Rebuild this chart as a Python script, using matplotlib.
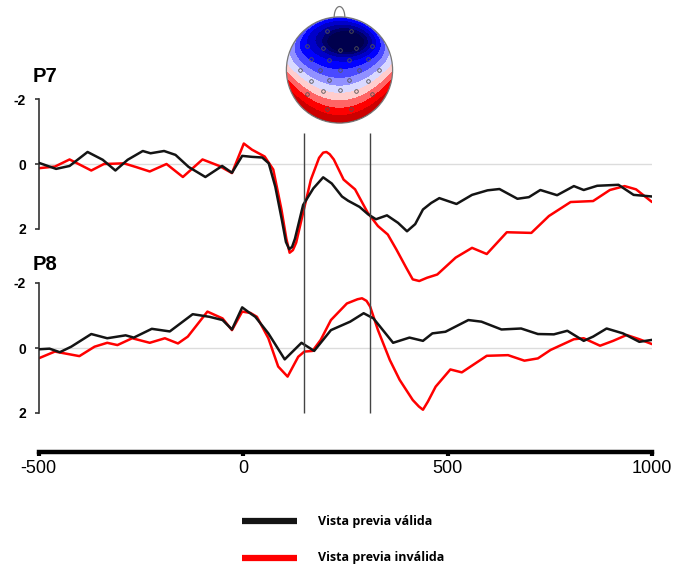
import numpy as np
import matplotlib
matplotlib.use("Agg")
import matplotlib.pyplot as plt
from matplotlib.lines import Line2D
from matplotlib.patches import Circle
from matplotlib.colors import TwoSlopeNorm

# ERP amplitudes in microvolts (negative plotted upward), time in ms
p7_valid_t = [-500, -457, -424, -380, -343, -312, -282, -245, -226, -193, -165, -133,
              -92, -51, -27, -2, 22, 47, 63, 79, 95, 105, 113, 120, 127, 147, 172, 196,
              217, 242, 257, 285, 306, 325, 352, 379, 401, 421, 440, 460, 480, 522, 560,
              598, 627, 671, 699, 727, 768, 809, 833, 866, 918, 955, 1000]
p7_valid_uv = [-0.04, 0.15, 0.06, -0.37, -0.13, 0.2, -0.13, -0.4, -0.33, -0.4, -0.28, 0.09,
               0.4, 0.06, 0.27, -0.25, -0.22, -0.2, -0.02, 0.7, 1.72, 2.4, 2.62, 2.55, 2.3,
               1.26, 0.75, 0.41, 0.6, 1.0, 1.13, 1.32, 1.55, 1.7, 1.58, 1.81, 2.07, 1.85,
               1.4, 1.2, 1.05, 1.23, 0.95, 0.81, 0.77, 1.07, 1.02, 0.8, 0.96, 0.68, 0.8,
               0.67, 0.64, 0.95, 1.0]

p7_invalid_t = [-500, -460, -424, -371, -340, -291, -260, -228, -187, -147, -99, -58,
                -27, 2, 22, 53, 74, 94, 106, 114, 122, 130, 147, 166, 186, 196, 204, 212,
                222, 246, 274, 305, 330, 354, 375, 399, 415, 431, 450, 475, 520, 560, 596,
                645, 705, 748, 801, 856, 897, 933, 961, 1000]
p7_invalid_uv = [0.13, 0.08, -0.14, 0.2, 0.0, -0.02, 0.1, 0.23, 0.0, 0.4, -0.14, 0.06,
                 0.28, -0.63, -0.44, -0.23, 0.17, 1.4, 2.3, 2.73, 2.65, 2.42, 1.5, 0.48,
                 -0.19, -0.35, -0.37, -0.3, -0.14, 0.48, 0.78, 1.5, 1.91, 2.17, 2.63, 3.19,
                 3.55, 3.6, 3.5, 3.4, 2.88, 2.58, 2.77, 2.1, 2.12, 1.6, 1.17, 1.14, 0.8,
                 0.68, 0.78, 1.17]

p8_valid_t = [-500, -473, -448, -420, -371, -332, -287, -267, -223, -179, -123, -82,
              -50, -27, -2, 14, 30, 62, 102, 143, 174, 215, 262, 295, 319, 367, 407,
              440, 463, 495, 551, 583, 632, 680, 721, 760, 793, 833, 856, 889, 929,
              969, 1000]
p8_valid_uv = [0.04, 0.02, 0.13, -0.04, -0.43, -0.3, -0.39, -0.32, -0.59, -0.51, -1.04,
               -0.96, -0.86, -0.57, -1.25, -1.1, -0.96, -0.45, 0.35, -0.16, 0.09, -0.55,
               -0.81, -1.07, -0.91, -0.16, -0.32, -0.22, -0.45, -0.5, -0.86, -0.81,
               -0.57, -0.6, -0.43, -0.42, -0.53, -0.22, -0.35, -0.6, -0.45, -0.19, -0.25]

p8_invalid_t = [-500, -460, -400, -363, -332, -307, -271, -228, -191, -159, -135, -87,
                -50, -27, -2, 18, 34, 62, 86, 109, 135, 150, 170, 190, 215, 254, 280, 291,
                302, 311, 330, 359, 383, 415, 430, 440, 452, 471, 507, 535, 596, 648, 688,
                721, 752, 809, 833, 873, 905, 938, 969, 1000]
p8_invalid_uv = [0.32, 0.11, 0.25, -0.04, -0.16, -0.09, -0.3, -0.16, -0.3, -0.14, -0.35,
                 -1.12, -0.91, -0.55, -1.12, -1.08, -0.96, -0.3, 0.57, 0.88, 0.27, 0.11,
                 0.09, -0.25, -0.86, -1.37, -1.5, -1.53, -1.45, -1.27, -0.55, 0.37, 0.98,
                 1.6, 1.8, 1.9, 1.65, 1.19, 0.66, 0.75, 0.24, 0.22, 0.39, 0.32, 0.06,
                 -0.27, -0.3, -0.07, -0.22, -0.4, -0.27, -0.12]

window_ms = [150, 310]
time_ticks = [-500, 0, 500, 1000]
uv_ticks = [-2, 0, 2]
legend_labels = ["Vista previa válida", "Vista previa inválida"]
channel_names = ["P7", "P8"]

# scalp electrode layout for the topographic inset (unit head radius)
electrode_u = [-0.24, 0.22,
               -0.61, -0.32, 0.0, 0.31, 0.61,
               -0.54, -0.19, 0.17, 0.53,
               -0.75, -0.37, 0.0, 0.37, 0.74,
               -0.54, -0.19, 0.17, 0.53,
               -0.61, -0.32, 0.0, 0.31, 0.61,
               -0.24, 0.22]
electrode_v = [0.73, 0.73,
               0.46, 0.41, 0.38, 0.41, 0.46,
               0.21, 0.18, 0.18, 0.21,
               0.0, 0.0, 0.0, 0.0, 0.0,
               -0.2, -0.19, -0.19, -0.2,
               -0.45, -0.39, -0.38, -0.39, -0.45,
               -0.73, -0.73]

BLACK = "#141414"
RED = "#ff0000"
W, H = 675, 570


def fig_rect(x0, y_top, x1, y_bottom):
    # pixel box -> figure fraction rectangle
    return [x0 / W, 1 - y_bottom / H, (x1 - x0) / W, (y_bottom - y_top) / H]


fig = plt.figure(figsize=(W / 100, H / 100), dpi=100)
fig.patch.set_facecolor("white")

X0, X1 = 38.5, 652.0
px_per_uv = 32.5


def channel_axes(y_top, y_bottom, y_zero):
    ax = fig.add_axes(fig_rect(X0, y_top, X1, y_bottom))
    ax.set_xlim(-500, 1000)
    ax.set_ylim((y_bottom - y_zero) / px_per_uv, (y_top - y_zero) / px_per_uv)
    ax.patch.set_alpha(0)
    for s in ["top", "right", "bottom"]:
        ax.spines[s].set_visible(False)
    ax.spines["left"].set_bounds(-2, 2)
    ax.spines["left"].set_color("#333333")
    ax.spines["left"].set_linewidth(1.2)
    ax.set_xticks([])
    ax.set_yticks(uv_ticks)
    ax.set_yticklabels([str(v) for v in uv_ticks], fontweight="bold",
                       fontsize=10, family="Liberation Sans")
    ax.tick_params(axis="y", length=3, width=1.2, color="#333333", pad=6)
    ax.axhline(0, color="#dcdcdc", lw=1.0, zorder=1)
    return ax


ax7 = channel_axes(92, 292, 164)
ax8 = channel_axes(276, 420, 348)

line_kw = dict(lw=1.8, solid_joinstyle="round", solid_capstyle="round")
ax7.plot(p7_valid_t, p7_valid_uv, color=BLACK, zorder=3, **line_kw)
ax7.plot(p7_invalid_t, p7_invalid_uv, color=RED, zorder=2, **line_kw)
ax8.plot(p8_valid_t, p8_valid_uv, color=BLACK, zorder=3, **line_kw)
ax8.plot(p8_invalid_t, p8_invalid_uv, color=RED, zorder=2, **line_kw)

for name, y in zip(channel_names, [77, 265]):
    fig.text(33 / W, 1 - y / H, name, fontsize=14.5, fontweight="bold",
             family="Liberation Sans", va="center", ha="left")

# shared time axis with the analysis window markers
axt = fig.add_axes(fig_rect(X0, 133, X1, 452))
axt.patch.set_alpha(0)
axt.set_xlim(-500, 1000)
axt.set_ylim(0, 1)
for s in ["top", "right", "left"]:
    axt.spines[s].set_visible(False)
axt.spines["bottom"].set_linewidth(3.2)
axt.spines["bottom"].set_color("black")
axt.set_yticks([])
axt.set_xticks(time_ticks)
axt.set_xticklabels([str(t) for t in time_ticks], fontsize=13, family="Liberation Sans")
axt.tick_params(axis="x", length=3, width=3, pad=3)
axt.vlines(window_ms, (452 - 413) / (452 - 133), 1, color="#444444", lw=1.0)

# legend drawn as plain figure artists
for label, color, y in zip(legend_labels, [BLACK, RED], [521, 558]):
    fig.add_artist(Line2D([242 / W, 297 / W], [1 - y / H, 1 - y / H],
                          color=color, lw=4.5, solid_capstyle="butt"))
    fig.text(318 / W, 1 - y / H, label, fontsize=9, fontweight="bold",
             family="Open Sans", va="center", ha="left")

# topographic map inset
axh = fig.add_axes(fig_rect(279.5, 10, 399.5, 130))
axh.set_xlim(-1.13, 1.13)
axh.set_ylim(-1.13, 1.13)
axh.set_aspect("equal")
axh.axis("off")

gu, gv = np.meshgrid(np.linspace(-1.02, 1.02, 300), np.linspace(-1.02, 1.02, 300))
gr = np.hypot(gu, gv)
dist = (-0.44 + 0.55 * gu ** 2) - gv
blue_side = 1.3 * np.tanh(1.3 * np.minimum(dist, 0)) * (1 - 0.5 * gr ** 8)
core = 1.3 * np.exp(-((gu - 0.13) ** 2 / 0.15 + (gv - 0.52) ** 2 / 0.05))
field = np.where(dist < 0, blue_side, dist) - core
levels = np.concatenate([np.linspace(-1.6, 0, 8), np.linspace(0, 0.7, 6)[1:]])
norm = TwoSlopeNorm(vmin=-1.6, vcenter=0, vmax=0.7)
cs = axh.contourf(gu, gv, field, levels=levels, cmap="seismic", norm=norm, extend="both")
cs.set_clip_path(Circle((0, 0), 1.0, transform=axh.transData))
axh.add_patch(Circle((0, 0), 1.0, facecolor="none", edgecolor="#777777", lw=0.9))
th = np.linspace(0, np.pi, 50)
axh.plot(0.1 * np.cos(th), 0.995 + 0.2 * np.sin(th), color="#777777", lw=0.9, clip_on=False)
axh.plot(electrode_u, electrode_v, linestyle="none", marker="o", markersize=2.6,
         markerfacecolor="none", markeredgecolor="#555555", markeredgewidth=0.6)

fig.savefig("out.png", dpi=100, facecolor="white")
